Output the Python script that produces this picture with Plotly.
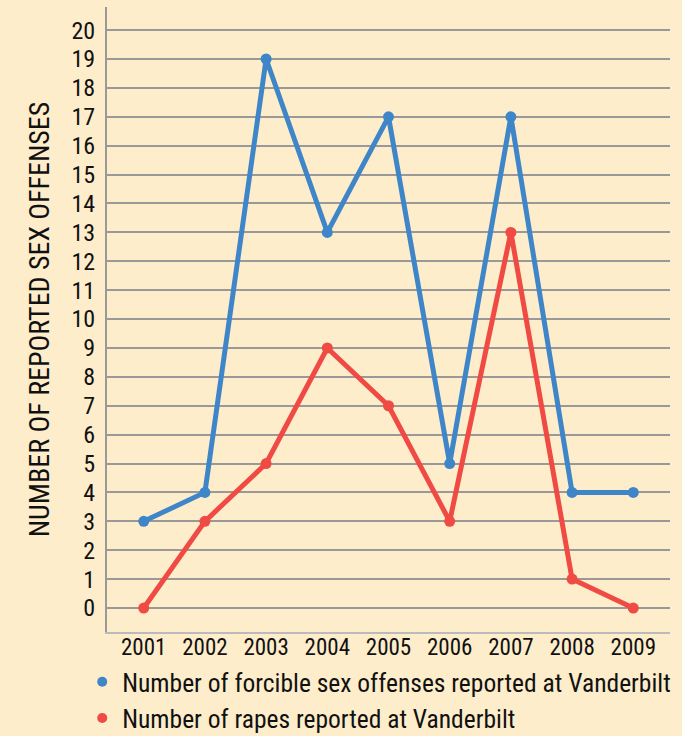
import plotly.graph_objects as go

years = ["2001", "2002", "2003", "2004", "2005", "2006", "2007", "2008", "2009"]
forcible = [3, 4, 19, 13, 17, 5, 17, 4, 4]
rapes = [0, 3, 5, 9, 7, 3, 13, 1, 0]
y_ticks = list(range(0, 21))

BLUE = "#3F86C9"
RED = "#EF4A44"
BG = "#FEEDCB"
FONT = "Roboto Condensed, Liberation Sans Narrow, sans-serif"

fig = go.Figure()
fig.add_trace(go.Scatter(x=years, y=forcible, mode="lines+markers",
                         line=dict(color=BLUE, width=5), marker=dict(size=11, color=BLUE),
                         showlegend=False, cliponaxis=False))
fig.add_trace(go.Scatter(x=years, y=rapes, mode="lines+markers",
                         line=dict(color=RED, width=5), marker=dict(size=11, color=RED),
                         showlegend=False, cliponaxis=False))
fig.add_trace(go.Scatter(x=[None], y=[None], mode="markers", marker=dict(size=10, color=BLUE),
                         name="Number of forcible sex offenses reported at Vanderbilt"))
fig.add_trace(go.Scatter(x=[None], y=[None], mode="markers", marker=dict(size=10, color=RED),
                         name="Number of rapes reported at Vanderbilt"))

fig.update_layout(
    width=682, height=736,
    paper_bgcolor=BG, plot_bgcolor=BG,
    margin=dict(l=107, r=12, t=7, b=104, autoexpand=False),
    font=dict(family=FONT, size=24, color="#111111"),
    xaxis=dict(type="category", range=[-0.6, 8.6], showgrid=False, zeroline=False, automargin=False,
               showline=True, linecolor="#BBBBBB", linewidth=2, ticks="", ticklabelstandoff=-7,
               tickfont=dict(size=23)),
    yaxis=dict(range=[-0.83, 20.8], tickvals=y_ticks, ticktext=[str(v) for v in y_ticks],
               showgrid=True, gridcolor="#999999", gridwidth=2, zeroline=False, automargin=False,
               showline=True, linecolor="#999999", linewidth=2, ticks="", ticklabelstandoff=5,
               tickfont=dict(size=24),
               title=dict(text="NUMBER OF REPORTED SEX OFFENSES", standoff=14, font=dict(size=28))),
    legend=dict(orientation="v", x=-0.044, xanchor="left", yref="container", y=0.105, yanchor="top",
                bgcolor="rgba(0,0,0,0)", font=dict(size=25.5), itemwidth=30,
                tracegroupgap=0),
)

fig.write_html("out.html", config={"displayModeBar": False},
               post_script="document.body.style.margin='0';document.body.style.padding='0';")
